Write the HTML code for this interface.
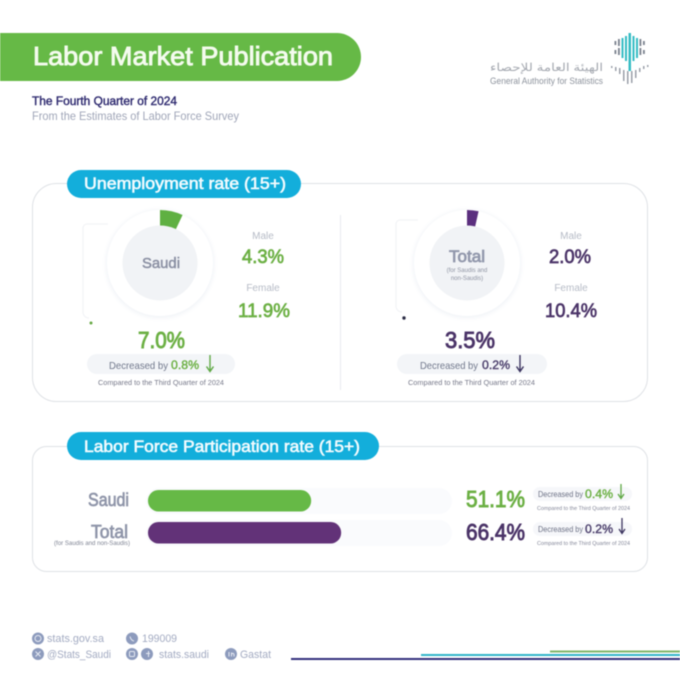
<!DOCTYPE html>
<html lang="en">
<head>
<meta charset="utf-8">
<title>Labor Market Publication</title>
<style>
html,body{margin:0;padding:0;background:#fff;width:680px;height:680px;overflow:hidden}
svg{display:block;filter:blur(0.4px)}
text{font-family:"Liberation Sans","Noto Sans CJK SC",sans-serif}
</style>
</head>
<body>
<svg id="page" xmlns="http://www.w3.org/2000/svg" width="680" height="680" viewBox="0 0 680 680">
<defs>
<filter id="glow" x="-30%" y="-30%" width="160%" height="160%"><feGaussianBlur stdDeviation="2.5"/></filter>
</defs>
<rect width="680" height="680" fill="#fff"/>

<!-- Header -->
<path d="M0 33H337a24 24 0 0 1 0 48H0Z" fill="#66b946"/>
<text x="33" y="65" font-size="26" fill="#f4fbee" stroke="#f4fbee" stroke-width="0.9" textLength="300" lengthAdjust="spacingAndGlyphs">Labor Market Publication</text>
<text x="32" y="105" font-size="11.5" fill="#2f2b70" stroke="#2f2b70" stroke-width="0.4" textLength="145" lengthAdjust="spacingAndGlyphs">The Fourth Quarter of 2024</text>
<text x="32" y="120" font-size="12" fill="#a0a6b8" textLength="207" lengthAdjust="spacingAndGlyphs">From the Estimates of Labor Force Survey</text>

<!-- Logo -->
<g>
<g fill="#35bcc4">
<rect x="628.500" y="33" width="2.500" height="38"/><rect x="625" y="36" width="2" height="25"/><rect x="632.500" y="36" width="2" height="25"/>
<rect x="621.500" y="38" width="2" height="20"/><rect x="636" y="38" width="2" height="20"/>
</g>
<g fill="#7a818e">
<rect x="618" y="39" width="1.800" height="7"/><rect x="618" y="48" width="1.800" height="7"/><rect x="614.500" y="41" width="1.800" height="4"/><rect x="614.500" y="50" width="1.800" height="4"/>
<rect x="639.500" y="39" width="1.800" height="7"/><rect x="639.500" y="48" width="1.800" height="7"/><rect x="643" y="41" width="1.800" height="4"/><rect x="643" y="50" width="1.800" height="4"/>
</g>
<g fill="#9a9fa9">
<rect x="611" y="66" width="1.500" height="2"/><rect x="615" y="67" width="1.500" height="4"/><rect x="619" y="68" width="1.500" height="6"/><rect x="623" y="70" width="1.500" height="11"/><rect x="627" y="71" width="1.500" height="13"/><rect x="631" y="71" width="1.500" height="12"/><rect x="635" y="70" width="1.500" height="8"/><rect x="639" y="68" width="1.500" height="4"/><rect x="643" y="66" width="1.500" height="3"/><rect x="647" y="65" width="1.500" height="2"/>
</g>
</g>
<text x="603" y="71" font-size="11" fill="#a4a8b0" textLength="113" lengthAdjust="spacingAndGlyphs" direction="rtl">الهيئة العامة للإحصاء</text>
<text x="490" y="84" font-size="9.500" fill="#8c929c" textLength="113" lengthAdjust="spacingAndGlyphs">General Authority for Statistics</text>

<!-- Unemployment card -->
<rect x="32.500" y="183.500" width="615" height="218" rx="24" fill="#fff" stroke="#dfe2e6"/>
<rect x="67" y="170" width="234" height="28" rx="14" fill="#13aedb"/>
<text x="84" y="189" font-size="16.500" fill="#f2fbfe" stroke="#f2fbfe" stroke-width="0.6" textLength="202" lengthAdjust="spacingAndGlyphs">Unemployment rate (15+)</text>
<line x1="340.500" y1="215" x2="340.500" y2="390" stroke="#e8ebef"/>

<path d="M108 224H87a4 4 0 0 0-4 4V312a6 6 0 0 0 6 6" fill="none" stroke="#f0f2f5"/>
<circle cx="91" cy="323" r="1.500" fill="#66a944"/>
<path d="M418 220H400a4 4 0 0 0-4 4V306a6 6 0 0 0 6 6" fill="none" stroke="#f0f2f5"/>
<circle cx="404" cy="318" r="1.700" fill="#2b2c44"/>

<g id="donuts"></g>

<text x="142" y="268" font-size="15" fill="#8b90a3" stroke="#8b90a3" stroke-width="0.5" textLength="38" lengthAdjust="spacingAndGlyphs">Saudi</text>
<text x="449" y="262" font-size="17" fill="#9298ac" stroke="#9298ac" stroke-width="0.8" textLength="36" lengthAdjust="spacingAndGlyphs">Total</text>
<text x="467" y="272" font-size="6" fill="#8f94a3" text-anchor="middle">(for Saudis and</text>
<text x="467" y="280" font-size="6" fill="#8f94a3" text-anchor="middle">non-Saudis)</text>

<g font-size="10" fill="#b6bbc6" text-anchor="middle">
<text x="263" y="239">Male</text>
<text x="263" y="291">Female</text>
<text x="571" y="239">Male</text>
<text x="571" y="291">Female</text>
</g>
<text x="242" y="263" font-size="19.500" fill="#6cb044" stroke="#6cb044" stroke-width="0.7" textLength="42" lengthAdjust="spacingAndGlyphs">4.3%</text>
<text x="238" y="317" font-size="19.500" fill="#6cb044" stroke="#6cb044" stroke-width="0.7" textLength="52" lengthAdjust="spacingAndGlyphs">11.9%</text>
<text x="549" y="263" font-size="19.500" fill="#4b3468" stroke="#4b3468" stroke-width="0.7" textLength="42" lengthAdjust="spacingAndGlyphs">2.0%</text>
<text x="545" y="317" font-size="19.500" fill="#4b3468" stroke="#4b3468" stroke-width="0.7" textLength="52" lengthAdjust="spacingAndGlyphs">10.4%</text>
<text id="saudi-rate" x="138" y="348" font-size="23" fill="#6cb044" stroke="#6cb044" stroke-width="0.9" textLength="47" lengthAdjust="spacingAndGlyphs">7.0%</text>
<text id="total-rate" x="445" y="348" font-size="23" fill="#4b3468" stroke="#4b3468" stroke-width="0.9" textLength="50" lengthAdjust="spacingAndGlyphs">3.5%</text>

<rect x="87" y="354" width="148" height="20" rx="10" fill="#f3f5f8"/>
<text x="109" y="369" font-size="10.500" fill="#71788c" textLength="59" lengthAdjust="spacingAndGlyphs">Decreased by</text>
<text x="171" y="369" font-size="12" fill="#6cb044" stroke="#6cb044" stroke-width="0.4" textLength="28" lengthAdjust="spacingAndGlyphs">0.8%</text>
<path d="M210 355V371M206.500 366.500L210 371.500L213.500 366.500" fill="none" stroke="#5fa845" stroke-width="1.400"/>
<text x="98" y="385" font-size="7.500" fill="#77798a" textLength="126" lengthAdjust="spacingAndGlyphs">Compared to the Third Quarter of 2024</text>

<rect x="397" y="354" width="150" height="20" rx="10" fill="#f3f5f8"/>
<text x="420" y="369" font-size="10.500" fill="#71788c" textLength="58" lengthAdjust="spacingAndGlyphs">Decreased by</text>
<text x="482" y="369" font-size="12" fill="#4b3f6c" stroke="#4b3f6c" stroke-width="0.4" textLength="28" lengthAdjust="spacingAndGlyphs">0.2%</text>
<path d="M520 355V371M516.500 366.500L520 371.500L523.500 366.500" fill="none" stroke="#3c3560" stroke-width="1.400"/>
<text x="408" y="385" font-size="7.500" fill="#77798a" textLength="127" lengthAdjust="spacingAndGlyphs">Compared to the Third Quarter of 2024</text>

<!-- Participation card -->
<rect x="32.500" y="446.500" width="615" height="125" rx="14" fill="#fff" stroke="#dfe2e6"/>
<rect x="67" y="432" width="312" height="28" rx="14" fill="#13aedb"/>
<text x="84" y="452" font-size="16.500" fill="#f2fbfe" stroke="#f2fbfe" stroke-width="0.6" textLength="276" lengthAdjust="spacingAndGlyphs">Labor Force Participation rate (15+)</text>

<text x="88" y="506" font-size="18" fill="#8f95a9" stroke="#8f95a9" stroke-width="0.7" textLength="41" lengthAdjust="spacingAndGlyphs">Saudi</text>
<text x="91" y="538" font-size="18" fill="#8f95a9" stroke="#8f95a9" stroke-width="0.7" textLength="37" lengthAdjust="spacingAndGlyphs">Total</text>
<text x="54" y="545" font-size="6" fill="#7f8494" textLength="76" lengthAdjust="spacingAndGlyphs">(for Saudis and non-Saudis)</text>

<g id="bars"></g>

<rect x="533" y="487" width="99" height="14" rx="7" fill="#f6f7fa"/>
<text x="538" y="497" font-size="8.500" fill="#6d7286" textLength="45" lengthAdjust="spacingAndGlyphs">Decreased by</text>
<text x="585" y="498" font-size="12" fill="#6cb044" stroke="#6cb044" stroke-width="0.4" textLength="28" lengthAdjust="spacingAndGlyphs">0.4%</text>
<path d="M621 484V498M618 494L621 498.500L624 494" fill="none" stroke="#5fa845" stroke-width="1.300"/>
<text x="537" y="510" font-size="5.500" fill="#85889a" textLength="93" lengthAdjust="spacingAndGlyphs">Compared to the Third Quarter of 2024</text>

<rect x="533" y="522" width="99" height="14" rx="7" fill="#f6f7fa"/>
<text x="538" y="532" font-size="8.500" fill="#6d7286" textLength="45" lengthAdjust="spacingAndGlyphs">Decreased by</text>
<text x="585" y="533" font-size="12" fill="#4b3f6c" stroke="#4b3f6c" stroke-width="0.4" textLength="28" lengthAdjust="spacingAndGlyphs">0.2%</text>
<path d="M622 518V533M619 529L622 533.500L625 529" fill="none" stroke="#3c3560" stroke-width="1.300"/>
<text x="537" y="545" font-size="5.500" fill="#85889a" textLength="93" lengthAdjust="spacingAndGlyphs">Compared to the Third Quarter of 2024</text>

<!-- Footer -->
<circle cx="38" cy="638.500" r="6" fill="#8d9bbd"/>
<circle cx="132" cy="638.500" r="6" fill="#8d9bbd"/>
<circle cx="38" cy="654" r="6" fill="#8d9bbd"/>
<circle cx="132" cy="654" r="6" fill="#8d9bbd"/>
<circle cx="147" cy="654" r="6" fill="#8d9bbd"/>
<circle cx="231" cy="654" r="6" fill="#8d9bbd"/>
<g fill="none" stroke="#e6eaf3" stroke-width="1">
<circle cx="38" cy="638.500" r="3"/>
<path d="M130 636.500q1 4 4 4.500"/>
<path d="M35.500 651.500L40.500 656.500M40.500 651.500L35.500 656.500"/>
<rect x="129.500" y="651.500" width="5" height="5" rx="1"/>
<path d="M148.500 651v6M146 653.500h4"/>
<path d="M229 652v4.500M231.500 656.500v-4M231.500 654q2-1.500 2.500 .5v2"/>
</g>
<g font-size="11" fill="#a3abc2">
<text x="47" y="642" textLength="57" lengthAdjust="spacingAndGlyphs">stats.gov.sa</text>
<text x="142" y="642" textLength="35" lengthAdjust="spacingAndGlyphs">199009</text>
<text x="47" y="658" textLength="64" lengthAdjust="spacingAndGlyphs">@Stats_Saudi</text>
<text x="159" y="658" textLength="50" lengthAdjust="spacingAndGlyphs">stats.saudi</text>
<text x="240" y="658" textLength="31" lengthAdjust="spacingAndGlyphs">Gastat</text>
</g>
<rect x="291" y="658" width="389" height="2" fill="#34307c"/>
<rect x="421" y="654" width="259" height="2" fill="#30b5c9"/>
<rect x="550" y="650.500" width="130" height="2" fill="#7fb56a"/>
</svg>

<script>
var donutCategories = ['saudi', 'total'];
var donutValues = [7.0, 3.5];
var barCategories = ['saudi', 'total'];
var barValues = [51.1, 66.4];
var barLabels = ['51.1%', '66.4%'];

var SVG_NS = 'http://www.w3.org/2000/svg';
var donutCentersX = { saudi: 160, total: 467 };
var seriesColors = { saudi: '#5fb042', total: '#5b2f7e' };
var barFill = { saudi: '#66b946', total: '#623278' };
var barTop = { saudi: 490, total: 522 };
var valueColors = { saudi: '#6cb044', total: '#4b3468' };
var valueBaseline = { saudi: 507, total: 540 };

function angleOf(value) { return value / 100 * Math.PI * 2; }
function barWidth(value) { return 63 + 1.96 * value; }

var donutLayer = document.getElementById('donuts');
donutCategories.forEach(function (cat, i) {
  var cx = donutCentersX[cat], cy = 263;
  var halo = document.createElementNS(SVG_NS, 'circle');
  
  
  halo.setAttribute('cx', cx);
  halo.setAttribute('cy', cy + 1);
  halo.setAttribute('r', 54);
  halo.setAttribute('fill', '#f0f3f7');
  halo.setAttribute('filter', 'url(#glow)');
  donutLayer.appendChild(halo);

  var ring = document.createElementNS(SVG_NS, 'circle');
  
  
  ring.setAttribute('cx', cx);
  ring.setAttribute('cy', cy);
  ring.setAttribute('r', 53);
  ring.setAttribute('fill', '#fff');
  donutLayer.appendChild(ring);

  var a = angleOf(donutValues[i]);
  var rO = 53, rI = 36;
  var d = 'M' + cx + ' ' + (cy - rO) +
    'A' + rO + ' ' + rO + ' 0 ' + (a > Math.PI ? 1 : 0) + ' 1 ' + (cx + rO * Math.sin(a)) + ' ' + (cy - rO * Math.cos(a)) +
    'L' + (cx + rI * Math.sin(a)) + ' ' + (cy - rI * Math.cos(a)) +
    'A' + rI + ' ' + rI + ' 0 ' + (a > Math.PI ? 1 : 0) + ' 0 ' + cx + ' ' + (cy - rI) + 'Z';
  var arc = document.createElementNS(SVG_NS, 'path');
  
  
  arc.setAttribute('d', d);
  arc.setAttribute('fill', seriesColors[cat]);
  donutLayer.appendChild(arc);

  var hub = document.createElementNS(SVG_NS, 'circle');
  
  
  hub.setAttribute('cx', cx);
  hub.setAttribute('cy', cy);
  hub.setAttribute('r', 37.500);
  hub.setAttribute('fill', '#f1f3f6');
  donutLayer.appendChild(hub);
});
document.getElementById('saudi-rate').textContent = donutValues[0].toFixed(1) + '%';
document.getElementById('total-rate').textContent = donutValues[1].toFixed(1) + '%';

var barLayer = document.getElementById('bars');
barCategories.forEach(function (cat, i) {
  var track = document.createElementNS(SVG_NS, 'rect');
  
  
  track.setAttribute('x', 146);
  track.setAttribute('y', barTop[cat] - 2);
  track.setAttribute('width', 306);
  track.setAttribute('height', 26);
  track.setAttribute('rx', 13);
  track.setAttribute('fill', '#fafbfd');
  barLayer.appendChild(track);

  var bar = document.createElementNS(SVG_NS, 'rect');
  
  
  bar.setAttribute('x', 148);
  bar.setAttribute('y', barTop[cat]);
  bar.setAttribute('width', barWidth(barValues[i]));
  bar.setAttribute('height', 21.500);
  bar.setAttribute('rx', 10.500);
  bar.setAttribute('fill', barFill[cat]);
  barLayer.appendChild(bar);

  var label = document.createElementNS(SVG_NS, 'text');
  
  
  label.setAttribute('x', 466);
  label.setAttribute('y', valueBaseline[cat]);
  label.setAttribute('font-size', 23);
  label.setAttribute('fill', valueColors[cat]);
  label.setAttribute('stroke', valueColors[cat]);
  label.setAttribute('stroke-width', 0.9);
  label.setAttribute('textLength', 59);
  label.setAttribute('lengthAdjust', 'spacingAndGlyphs');
  label.textContent = barLabels[i];
  barLayer.appendChild(label);
});
</script>
</body>
</html>
